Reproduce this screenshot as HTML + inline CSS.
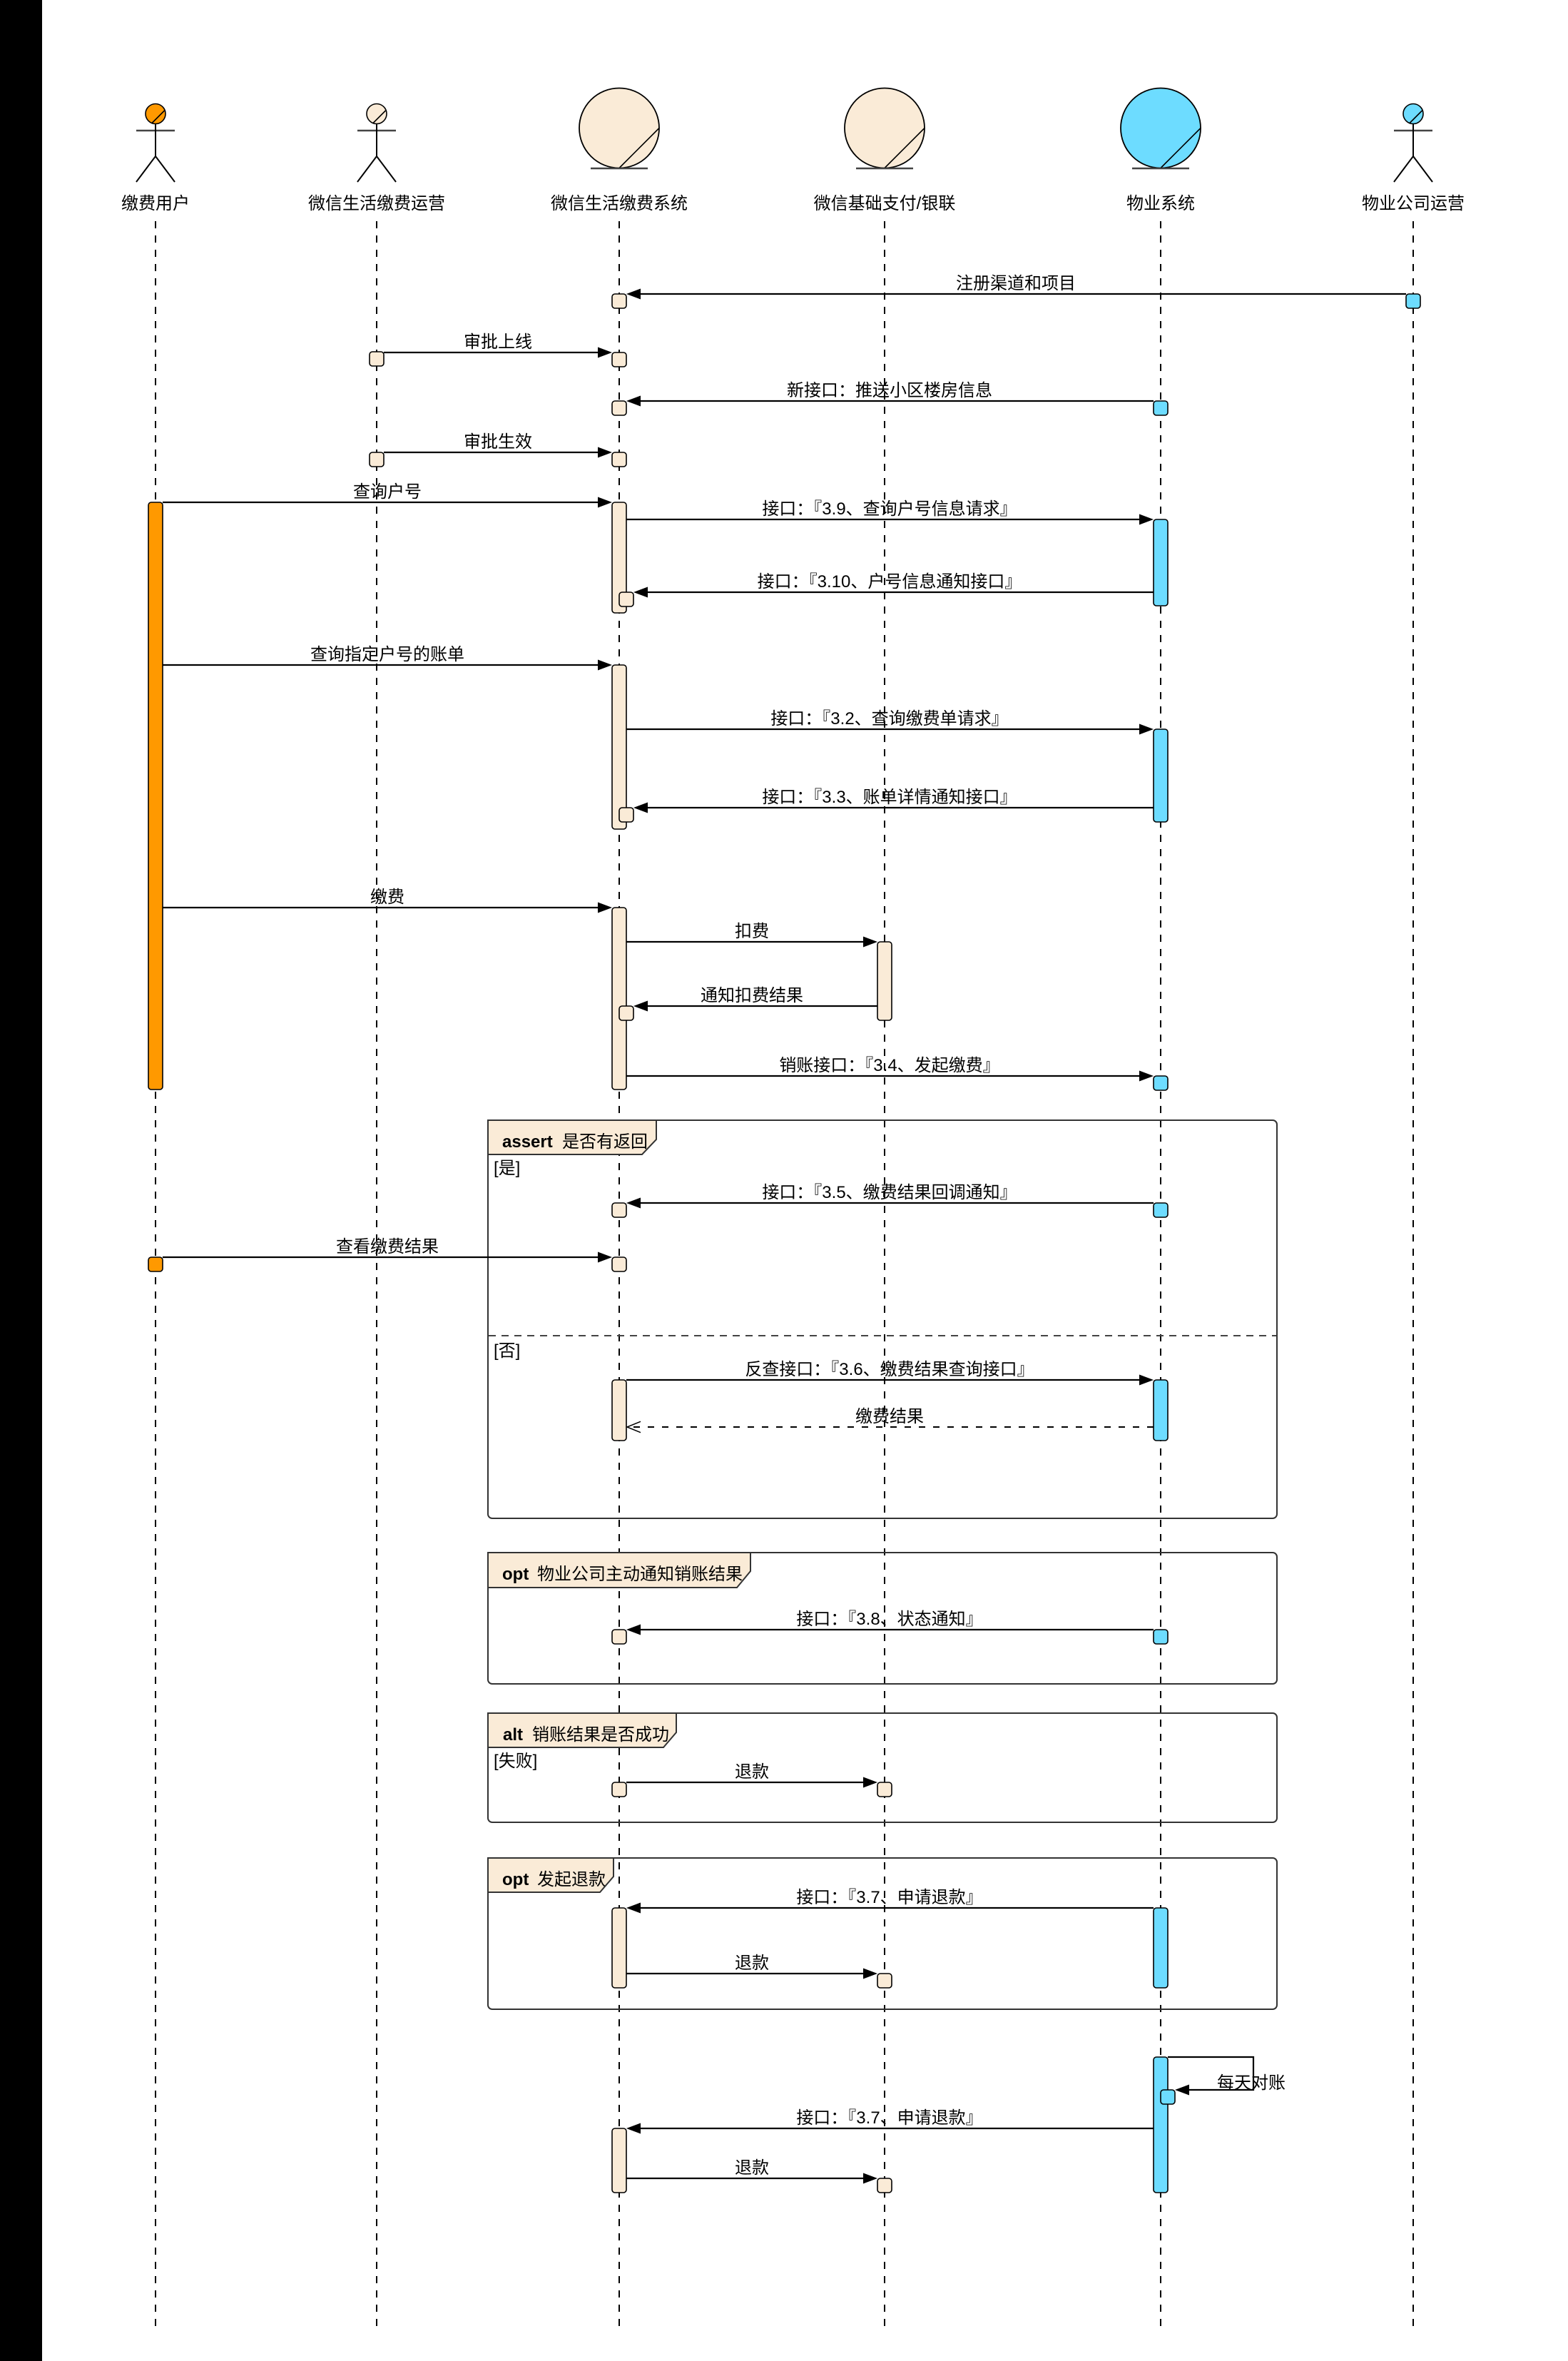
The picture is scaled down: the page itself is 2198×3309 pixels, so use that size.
<!DOCTYPE html>
<html>
<head>
<meta charset="utf-8">
<style>
  html, body { margin: 0; padding: 0; background: #fff; }
  body { width: 2198px; height: 3309px; overflow: hidden; }
  svg { display: block; }
  text { font-family: "Liberation Sans", "Noto Sans CJK SC", sans-serif; font-size: 24px; fill: #000; }
  .lbl { text-anchor: middle; }
  .ll { stroke: #000; stroke-width: 2; stroke-dasharray: 10 10; fill: none; }
  .msg { stroke: #000; stroke-width: 2.2; fill: none; }
  .ret { stroke: #000; stroke-width: 2; fill: none; stroke-dasharray: 9 11; }
  .bx { stroke: #000; stroke-width: 1.6; }
  .be { fill: #FAEBD7; }
  .bl { fill: #6DDCFF; }
  .or { fill: #FF9900; }
  .ah { fill: #000; stroke: none; }
  .fr { fill: none; stroke: #333; stroke-width: 2; }
  .tab { fill: #FAEBD7; stroke: #333; stroke-width: 2; }
  .kw { font-weight: bold; }
</style>
</head>
<body>
<svg width="2198" height="3309" viewBox="0 0 2198 3309" xmlns="http://www.w3.org/2000/svg">
  <rect x="0" y="0" width="2198" height="3309" fill="#fff"/>
  <rect x="0" y="0" width="59" height="3309" fill="#000"/>

  <!-- ===== Header: actors / entities ===== -->
  <!-- Actor 1 缴费用户 (orange) -->
  <g>
    <circle cx="218" cy="159.5" r="14" fill="#FF9900" stroke="#000" stroke-width="1.6"/>
    <line x1="213" y1="172.5" x2="230.5" y2="155" stroke="#000" stroke-width="1.6"/>
    <line x1="191" y1="183" x2="245" y2="183" stroke="#444" stroke-width="2.5"/>
    <line x1="218" y1="173.5" x2="218" y2="219" stroke="#000" stroke-width="2"/>
    <line x1="218" y1="219" x2="191" y2="255" stroke="#000" stroke-width="2"/>
    <line x1="218" y1="219" x2="245" y2="255" stroke="#000" stroke-width="2"/>
  </g>
  <!-- Actor 2 微信生活缴费运营 (beige) -->
  <g>
    <circle cx="528" cy="159.5" r="14" fill="#FAEBD7" stroke="#000" stroke-width="1.6"/>
    <line x1="523" y1="172.5" x2="540.5" y2="155" stroke="#000" stroke-width="1.6"/>
    <line x1="501" y1="183" x2="555" y2="183" stroke="#444" stroke-width="2.5"/>
    <line x1="528" y1="173.5" x2="528" y2="219" stroke="#000" stroke-width="2"/>
    <line x1="528" y1="219" x2="501" y2="255" stroke="#000" stroke-width="2"/>
    <line x1="528" y1="219" x2="555" y2="255" stroke="#000" stroke-width="2"/>
  </g>
  <!-- Actor 6 物业公司运营 (blue) -->
  <g>
    <circle cx="1981" cy="159.5" r="14" fill="#6DDCFF" stroke="#000" stroke-width="1.6"/>
    <line x1="1976" y1="172.5" x2="1993.5" y2="155" stroke="#000" stroke-width="1.6"/>
    <line x1="1954" y1="183" x2="2008" y2="183" stroke="#444" stroke-width="2.5"/>
    <line x1="1981" y1="173.5" x2="1981" y2="219" stroke="#000" stroke-width="2"/>
    <line x1="1981" y1="219" x2="1954" y2="255" stroke="#000" stroke-width="2"/>
    <line x1="1981" y1="219" x2="2008" y2="255" stroke="#000" stroke-width="2"/>
  </g>
  <!-- Entity 3 微信生活缴费系统 -->
  <g>
    <circle cx="868" cy="179.5" r="56" fill="#FAEBD7" stroke="#000" stroke-width="1.8"/>
    <line x1="868" y1="235.5" x2="924" y2="179.5" stroke="#000" stroke-width="1.6"/>
    <line x1="828" y1="236" x2="908" y2="236" stroke="#444" stroke-width="2.5"/>
  </g>
  <!-- Entity 4 微信基础支付/银联 -->
  <g>
    <circle cx="1240" cy="179.5" r="56" fill="#FAEBD7" stroke="#000" stroke-width="1.8"/>
    <line x1="1240" y1="235.5" x2="1296" y2="179.5" stroke="#000" stroke-width="1.6"/>
    <line x1="1200" y1="236" x2="1280" y2="236" stroke="#444" stroke-width="2.5"/>
  </g>
  <!-- Entity 5 物业系统 -->
  <g>
    <circle cx="1627" cy="179.5" r="56" fill="#6DDCFF" stroke="#000" stroke-width="1.8"/>
    <line x1="1627" y1="235.5" x2="1683" y2="179.5" stroke="#000" stroke-width="1.6"/>
    <line x1="1587" y1="236" x2="1667" y2="236" stroke="#444" stroke-width="2.5"/>
  </g>

  <text class="lbl" x="218" y="293">缴费用户</text>
  <text class="lbl" x="528" y="293">微信生活缴费运营</text>
  <text class="lbl" x="868" y="293">微信生活缴费系统</text>
  <text class="lbl" x="1240" y="293">微信基础支付/银联</text>
  <text class="lbl" x="1627" y="293">物业系统</text>
  <text class="lbl" x="1981" y="293">物业公司运营</text>

  <!-- ===== Lifelines ===== -->
  <line class="ll" x1="218" y1="310" x2="218" y2="3260"/>
  <line class="ll" x1="528" y1="310" x2="528" y2="3260"/>
  <line class="ll" x1="868" y1="310" x2="868" y2="3260"/>
  <line class="ll" x1="1240" y1="310" x2="1240" y2="3260"/>
  <line class="ll" x1="1627" y1="310" x2="1627" y2="3260"/>
  <line class="ll" x1="1981" y1="310" x2="1981" y2="3260"/>

  <!-- ===== Combined fragments ===== -->
  <!-- assert -->
  <rect class="fr" x="684" y="1570" width="1106" height="558" rx="6"/>
  <polygon class="tab" points="684,1570 920,1570 920,1597 900,1618 684,1618"/>
  <text class="kw" x="704" y="1608">assert</text>
  <text x="788" y="1608">是否有返回</text>
  <text x="692" y="1645">[是]</text>
  <line x1="685" y1="1872" x2="1789" y2="1872" stroke="#444" stroke-width="2" stroke-dasharray="10 8"/>
  <text x="692" y="1901">[否]</text>

  <!-- opt 1 -->
  <rect class="fr" x="684" y="2176" width="1106" height="184" rx="6"/>
  <polygon class="tab" points="684,2176 1052,2176 1052,2202 1033,2225 684,2225"/>
  <text class="kw" x="704" y="2214">opt</text>
  <text x="753" y="2214">物业公司主动通知销账结果</text>

  <!-- alt -->
  <rect class="fr" x="684" y="2401" width="1106" height="153" rx="6"/>
  <polygon class="tab" points="684,2401 948,2401 948,2428 930,2449 684,2449"/>
  <text class="kw" x="705" y="2439">alt</text>
  <text x="746" y="2439">销账结果是否成功</text>
  <text x="692" y="2476">[失败]</text>

  <!-- opt 2 -->
  <rect class="fr" x="684" y="2604" width="1106" height="212" rx="6"/>
  <polygon class="tab" points="684,2604 860,2604 860,2630 841,2652 684,2652"/>
  <text class="kw" x="704" y="2642">opt</text>
  <text x="753" y="2642">发起退款</text>

  <!-- ===== Messages ===== -->
  <!-- 1 注册渠道和项目 -->
  <line class="msg" x1="1971" y1="412" x2="896" y2="412"/>
  <polygon class="ah" points="878,412 898,404.5 898,419.5"/>
  <text class="lbl" x="1424" y="405">注册渠道和项目</text>

  <!-- 2 审批上线 -->
  <line class="msg" x1="538" y1="494" x2="840" y2="494"/>
  <polygon class="ah" points="858,494 838,486.5 838,501.5"/>
  <text class="lbl" x="698" y="487">审批上线</text>

  <!-- 3 新接口 -->
  <line class="msg" x1="1617" y1="562" x2="896" y2="562"/>
  <polygon class="ah" points="878,562 898,554.5 898,569.5"/>
  <text class="lbl" x="1247" y="555">新接口：推送小区楼房信息</text>

  <!-- 4 审批生效 -->
  <line class="msg" x1="538" y1="634" x2="840" y2="634"/>
  <polygon class="ah" points="858,634 838,626.5 838,641.5"/>
  <text class="lbl" x="698" y="627">审批生效</text>

  <!-- 5 查询户号 -->
  <line class="msg" x1="228" y1="704" x2="840" y2="704"/>
  <polygon class="ah" points="858,704 838,696.5 838,711.5"/>
  <text class="lbl" x="543" y="697">查询户号</text>

  <!-- 6 3.9 -->
  <line class="msg" x1="878" y1="728" x2="1599" y2="728"/>
  <polygon class="ah" points="1617,728 1597,720.5 1597,735.5"/>
  <text class="lbl" x="1247" y="721">接口：『3.9、查询户号信息请求』</text>

  <!-- 7 3.10 -->
  <line class="msg" x1="1617" y1="830" x2="906" y2="830"/>
  <polygon class="ah" points="888,830 908,822.5 908,837.5"/>
  <text class="lbl" x="1247" y="823">接口：『3.10、户号信息通知接口』</text>

  <!-- 8 查询指定户号的账单 -->
  <line class="msg" x1="228" y1="932" x2="840" y2="932"/>
  <polygon class="ah" points="858,932 838,924.5 838,939.5"/>
  <text class="lbl" x="543" y="925">查询指定户号的账单</text>

  <!-- 9 3.2 -->
  <line class="msg" x1="878" y1="1022" x2="1599" y2="1022"/>
  <polygon class="ah" points="1617,1022 1597,1014.5 1597,1029.5"/>
  <text class="lbl" x="1247" y="1015">接口：『3.2、查询缴费单请求』</text>

  <!-- 10 3.3 -->
  <line class="msg" x1="1617" y1="1132" x2="906" y2="1132"/>
  <polygon class="ah" points="888,1132 908,1124.5 908,1139.5"/>
  <text class="lbl" x="1247" y="1125">接口：『3.3、账单详情通知接口』</text>

  <!-- 11 缴费 -->
  <line class="msg" x1="228" y1="1272" x2="840" y2="1272"/>
  <polygon class="ah" points="858,1272 838,1264.5 838,1279.5"/>
  <text class="lbl" x="543" y="1265">缴费</text>

  <!-- 12 扣费 -->
  <line class="msg" x1="878" y1="1320" x2="1212" y2="1320"/>
  <polygon class="ah" points="1230,1320 1210,1312.5 1210,1327.5"/>
  <text class="lbl" x="1054" y="1313">扣费</text>

  <!-- 13 通知扣费结果 -->
  <line class="msg" x1="1230" y1="1410" x2="906" y2="1410"/>
  <polygon class="ah" points="888,1410 908,1402.5 908,1417.5"/>
  <text class="lbl" x="1054" y="1403">通知扣费结果</text>

  <!-- 14 3.4 -->
  <line class="msg" x1="878" y1="1508" x2="1599" y2="1508"/>
  <polygon class="ah" points="1617,1508 1597,1500.5 1597,1515.5"/>
  <text class="lbl" x="1247" y="1501">销账接口：『3.4、发起缴费』</text>

  <!-- 15 3.5 -->
  <line class="msg" x1="1617" y1="1686" x2="896" y2="1686"/>
  <polygon class="ah" points="878,1686 898,1678.5 898,1693.5"/>
  <text class="lbl" x="1247" y="1679">接口：『3.5、缴费结果回调通知』</text>

  <!-- 16 查看缴费结果 -->
  <line class="msg" x1="228" y1="1762" x2="840" y2="1762"/>
  <polygon class="ah" points="858,1762 838,1754.5 838,1769.5"/>
  <text class="lbl" x="543" y="1755">查看缴费结果</text>

  <!-- 17 3.6 -->
  <line class="msg" x1="878" y1="1934" x2="1599" y2="1934"/>
  <polygon class="ah" points="1617,1934 1597,1926.5 1597,1941.5"/>
  <text class="lbl" x="1247" y="1927">反查接口：『3.6、缴费结果查询接口』</text>

  <!-- 18 缴费结果 (return) -->
  <line class="ret" x1="1617" y1="2000" x2="880" y2="2000"/>
  <polyline points="898,1992.3 879,2000 898,2007.7" fill="none" stroke="#000" stroke-width="1.5"/>
  <text class="lbl" x="1247" y="1993">缴费结果</text>

  <!-- 19 3.8 -->
  <line class="msg" x1="1617" y1="2284" x2="896" y2="2284"/>
  <polygon class="ah" points="878,2284 898,2276.5 898,2291.5"/>
  <text class="lbl" x="1247" y="2277">接口：『3.8、状态通知』</text>

  <!-- 20 退款 (alt) -->
  <line class="msg" x1="878" y1="2498" x2="1212" y2="2498"/>
  <polygon class="ah" points="1230,2498 1210,2490.5 1210,2505.5"/>
  <text class="lbl" x="1054" y="2491">退款</text>

  <!-- 21 3.7 (opt) -->
  <line class="msg" x1="1617" y1="2674" x2="896" y2="2674"/>
  <polygon class="ah" points="878,2674 898,2666.5 898,2681.5"/>
  <text class="lbl" x="1247" y="2667">接口：『3.7、申请退款』</text>

  <!-- 22 退款 (opt) -->
  <line class="msg" x1="878" y1="2766" x2="1212" y2="2766"/>
  <polygon class="ah" points="1230,2766 1210,2758.5 1210,2773.5"/>
  <text class="lbl" x="1054" y="2759">退款</text>

  <!-- 23 每天对账 (self) -->
  <polyline class="msg" points="1637,2883 1757,2883 1757,2929 1665,2929"/>
  <polygon class="ah" points="1647,2929 1667,2921.5 1667,2936.5"/>
  <text class="lbl" x="1754" y="2927">每天对账</text>

  <!-- 24 3.7 -->
  <line class="msg" x1="1617" y1="2983" x2="896" y2="2983"/>
  <polygon class="ah" points="878,2983 898,2975.5 898,2990.5"/>
  <text class="lbl" x="1247" y="2976">接口：『3.7、申请退款』</text>

  <!-- 25 退款 -->
  <line class="msg" x1="878" y1="3053" x2="1212" y2="3053"/>
  <polygon class="ah" points="1230,3053 1210,3045.5 1210,3060.5"/>
  <text class="lbl" x="1054" y="3046">退款</text>

  <!-- ===== Activation boxes ===== -->
  <!-- orange user -->
  <rect class="bx or" x="208" y="704" width="20" height="823" rx="4"/>
  <rect class="bx or" x="208" y="1762" width="20" height="20" rx="4"/>

  <!-- operator -->
  <rect class="bx be" x="518" y="493" width="20" height="20" rx="4"/>
  <rect class="bx be" x="518" y="634" width="20" height="20" rx="4"/>

  <!-- system -->
  <rect class="bx be" x="858" y="412" width="20" height="20" rx="4"/>
  <rect class="bx be" x="858" y="494" width="20" height="20" rx="4"/>
  <rect class="bx be" x="858" y="562" width="20" height="20" rx="4"/>
  <rect class="bx be" x="858" y="634" width="20" height="20" rx="4"/>
  <rect class="bx be" x="858" y="704" width="20" height="155" rx="4"/>
  <rect class="bx be" x="868" y="830" width="20" height="20" rx="4"/>
  <rect class="bx be" x="858" y="932" width="20" height="230" rx="4"/>
  <rect class="bx be" x="868" y="1132" width="20" height="20" rx="4"/>
  <rect class="bx be" x="858" y="1272" width="20" height="255" rx="4"/>
  <rect class="bx be" x="868" y="1410" width="20" height="20" rx="4"/>
  <rect class="bx be" x="858" y="1686" width="20" height="20" rx="4"/>
  <rect class="bx be" x="858" y="1762" width="20" height="20" rx="4"/>
  <rect class="bx be" x="858" y="1934" width="20" height="85" rx="4"/>
  <rect class="bx be" x="858" y="2284" width="20" height="20" rx="4"/>
  <rect class="bx be" x="858" y="2498" width="20" height="20" rx="4"/>
  <rect class="bx be" x="858" y="2674" width="20" height="112" rx="4"/>
  <rect class="bx be" x="858" y="2983" width="20" height="90" rx="4"/>

  <!-- payment -->
  <rect class="bx be" x="1230" y="1320" width="20" height="110" rx="4"/>
  <rect class="bx be" x="1230" y="2498" width="20" height="20" rx="4"/>
  <rect class="bx be" x="1230" y="2766" width="20" height="20" rx="4"/>
  <rect class="bx be" x="1230" y="3053" width="20" height="20" rx="4"/>

  <!-- property system -->
  <rect class="bx bl" x="1617" y="562" width="20" height="20" rx="4"/>
  <rect class="bx bl" x="1617" y="728" width="20" height="121" rx="4"/>
  <rect class="bx bl" x="1617" y="1022" width="20" height="130" rx="4"/>
  <rect class="bx bl" x="1617" y="1508" width="20" height="20" rx="4"/>
  <rect class="bx bl" x="1617" y="1686" width="20" height="20" rx="4"/>
  <rect class="bx bl" x="1617" y="1934" width="20" height="85" rx="4"/>
  <rect class="bx bl" x="1617" y="2284" width="20" height="20" rx="4"/>
  <rect class="bx bl" x="1617" y="2674" width="20" height="112" rx="4"/>
  <rect class="bx bl" x="1617" y="2883" width="20" height="190" rx="4"/>
  <rect class="bx bl" x="1627" y="2929" width="20" height="20" rx="4"/>

  <!-- property operator -->
  <rect class="bx bl" x="1971" y="412" width="20" height="20" rx="4"/>
</svg>
</body>
</html>
